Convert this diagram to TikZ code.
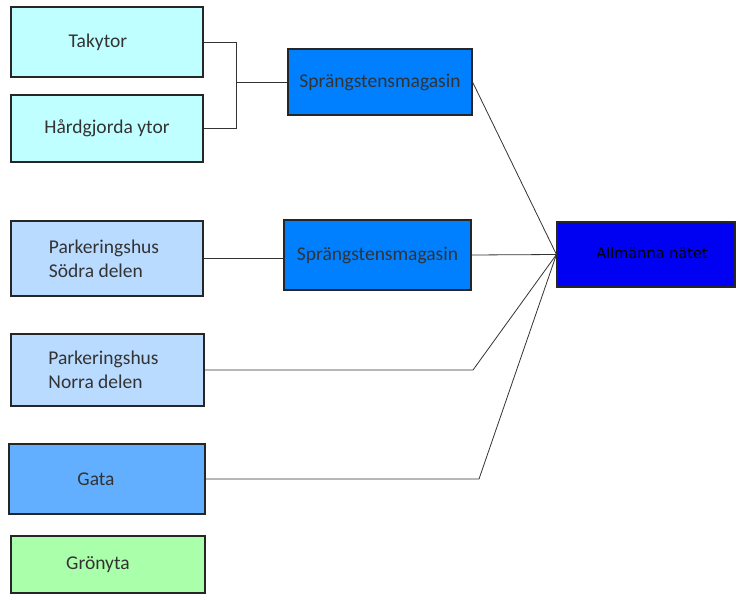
\documentclass[tikz,border=0pt]{standalone}
\usepackage{fontspec}
\setmainfont{Carlito}
\newfontfamily\dejavu{DejaVu Sans}
\begin{document}
\begin{tikzpicture}[x=1pt,y=-1pt,
  box/.style={draw=black!85,line width=1.1pt,rectangle,inner sep=0pt,
    font=\fontsize{19.5}{24}\selectfont,text=black!80},
  conn/.style={draw=black!80,line width=0.8pt}]
\useasboundingbox (0,0) rectangle (736,594);
\definecolor{cyanl}{HTML}{C0FFFF}
\definecolor{bluel}{HTML}{B9DBFF}
\definecolor{bluem}{HTML}{62AEFF}
\definecolor{greenl}{HTML}{AAFFAA}
\definecolor{sprb}{HTML}{0080FF}
\definecolor{allb}{HTML}{0000F2}
\node[box,fill=cyanl,minimum width=192,minimum height=70] (tak) at (107,42) {\hspace*{-18pt}Takytor};
\node[box,fill=cyanl,minimum width=192,minimum height=67] (hard) at (107,128.5) {Hårdgjorda ytor};
\node[box,fill=sprb,minimum width=184,minimum height=66] (spr1) at (380,82) {Sprängstensmagasin};
\node[box,fill=bluel,minimum width=192,minimum height=75,align=left,text depth=0pt] (ps) at (107,258.5) {\hspace*{-6pt}Parkeringshus\\\hspace*{-6pt}Södra delen};
\node[box,fill=sprb,minimum width=187,minimum height=70] (spr2) at (377.5,255) {Sprängstensmagasin};
\node[box,fill=allb,minimum width=178,minimum height=65,font=\dejavu\fontsize{14.5}{17}\selectfont,text=black] (allm) at (646,254.5) {\raisebox{3pt}{\hspace*{12pt}Allmänna nätet}};
\node[box,fill=bluel,minimum width=193,minimum height=72,align=left] (pn) at (107.5,370) {\hspace*{-8pt}Parkeringshus\\\hspace*{-8pt}Norra delen};
\node[box,fill=bluem,minimum width=196,minimum height=70] (gata) at (107,479) {\hspace*{-22pt}Gata};
\node[box,fill=greenl,minimum width=194,minimum height=57] (gron) at (108,564.5) {\hspace*{-20pt}Grönyta};
\coordinate (j1) at (236,82);
\coordinate (c1) at (473,370);
\coordinate (c2) at (479,479);
\draw[conn] (tak.east) -| (j1);
\draw[conn] (j1) |- (hard.east);
\draw[conn] (j1) -- (spr1.west);
\draw[conn] (ps.east) -- (spr2.west |- ps.east);
\draw[conn] (spr1.east) -- (allm.west);
\draw[conn] (spr2.east) -- (allm.west);
\draw[conn] (pn.east) -- (c1) -- (allm.west);
\draw[conn] (gata.east) -- (c2) -- (allm.west);
\end{tikzpicture}
\end{document}
